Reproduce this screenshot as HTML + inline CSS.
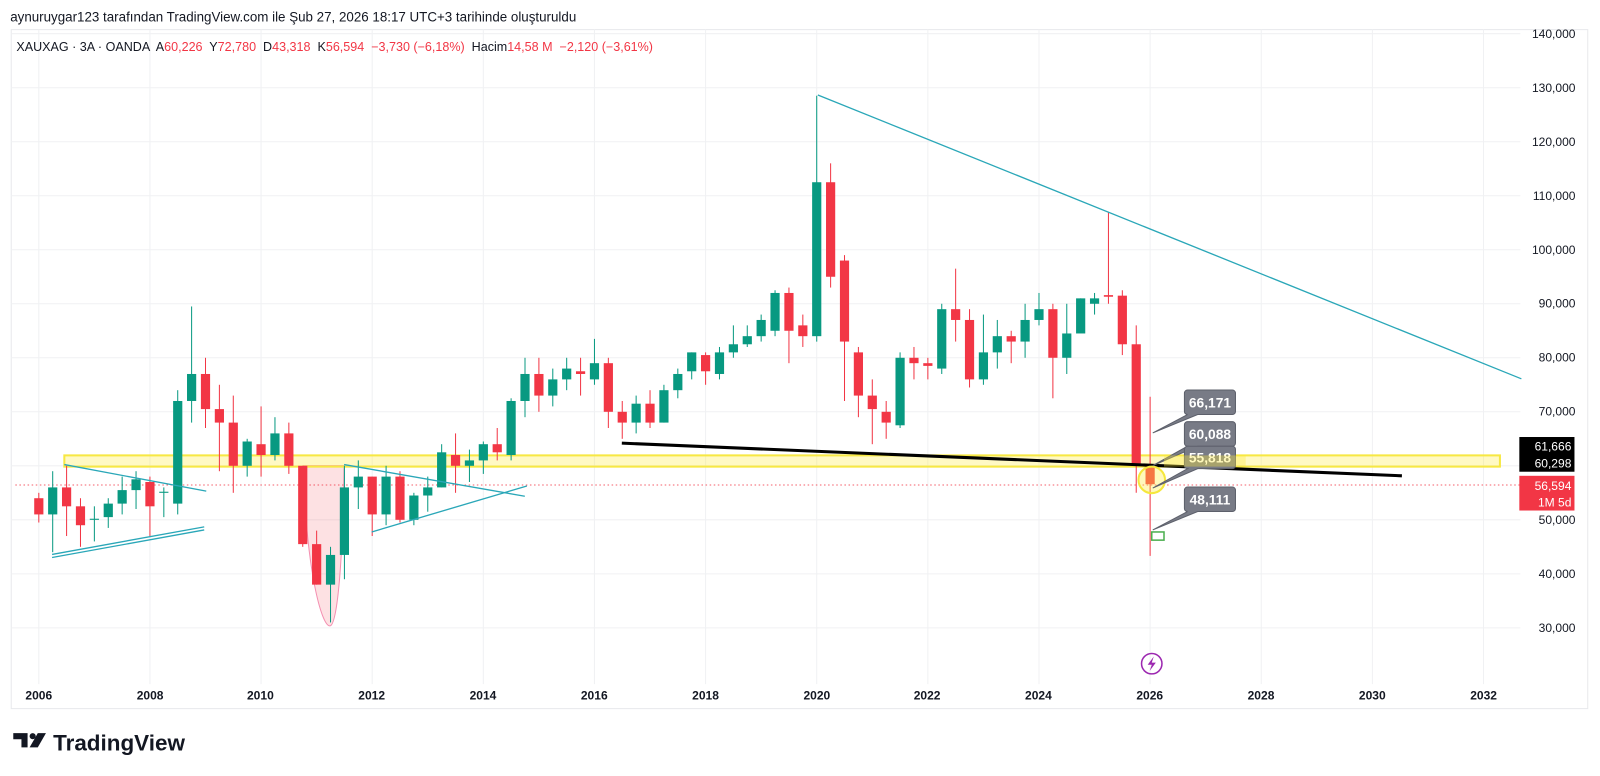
<!DOCTYPE html>
<html><head><meta charset="utf-8"><style>
html,body{margin:0;padding:0;background:#fff;overflow:hidden}
svg{display:block;font-family:"Liberation Sans",sans-serif}
</style></head><body>
<svg id="s" width="1600" height="776" viewBox="0 0 1567 760" xmlns="http://www.w3.org/2000/svg">
<rect x="0" y="0" width="1567" height="760" fill="#fff"/>
<rect x="11" y="29" width="1544" height="665" fill="none" stroke="#e8e9ec" stroke-width="1"/>
<g id="grid" stroke="#f0f1f3" stroke-width="1"></g>
<text x="10" y="21" font-size="13.1" fill="#131722">aynuruygar123 tarafından TradingView.com ile Şub 27, 2026 18:17 UTC+3 tarihinde oluşturuldu</text>
<text x="16" y="50" font-size="12.3" fill="#131722" style="white-space:pre" xml:space="preserve">XAUXAG · 3A · OANDA  A<tspan fill="#f23645">60,226</tspan>  Y<tspan fill="#f23645">72,780</tspan>  D<tspan fill="#f23645">43,318</tspan>  K<tspan fill="#f23645">56,594  −3,730 (−6,18%)</tspan>  Hacim<tspan fill="#f23645">14,58 M  −2,120 (−3,61%)</tspan></text>
<g font-size="11.8" fill="#131722" text-anchor="end">
<text x="1543" y="37">140,000</text><text x="1543" y="90">130,000</text><text x="1543" y="143">120,000</text><text x="1543" y="196">110,000</text><text x="1543" y="249">100,000</text><text x="1543" y="301">90,000</text><text x="1543" y="354">80,000</text><text x="1543" y="407">70,000</text><text x="1543" y="513">50,000</text><text x="1543" y="566">40,000</text><text x="1543" y="619">30,000</text>
</g>
<g font-size="11.8" font-weight="bold" fill="#131722" text-anchor="middle">
<text x="38" y="685">2006</text><text x="147" y="685">2008</text><text x="255" y="685">2010</text><text x="364" y="685">2012</text><text x="473" y="685">2014</text><text x="582" y="685">2016</text><text x="691" y="685">2018</text><text x="800" y="685">2020</text><text x="908" y="685">2022</text><text x="1017" y="685">2024</text><text x="1126" y="685">2026</text><text x="1235" y="685">2028</text><text x="1344" y="685">2030</text><text x="1453" y="685">2032</text>
</g>
<line x1="15" y1="475" x2="1489" y2="475" stroke="#f23645" stroke-width="1" stroke-dasharray="1.5,2.5" opacity="0.8"/>
<path d="M297,456 C300,560 315,613 323,613 C331,613 336,540 337,456 Z" fill="rgba(242,54,69,0.15)" stroke="#f48fb1" stroke-width="1"/>
<rect x="63" y="446" width="1406" height="11" fill="rgba(255,235,59,0.3)" stroke="#f7e843" stroke-width="2"/>
<g id="candles"></g>
<g stroke="#2aa7b8" stroke-width="1.3" fill="none">
<line x1="801" y1="93" x2="1490" y2="371"/>
<line x1="63" y1="455" x2="202" y2="481"/>
<line x1="51" y1="543" x2="200" y2="516"/>
<line x1="51" y1="546" x2="200" y2="519"/>
<line x1="337" y1="455" x2="514" y2="486"/>
<line x1="364" y1="521" x2="516" y2="476"/>
</g>
<line x1="609" y1="434" x2="1373" y2="466" stroke="#000" stroke-width="3"/>
<circle cx="1128" cy="470" r="13" fill="rgba(255,235,59,0.35)" stroke="#f5e73c" stroke-width="2"/>
<rect x="1128" y="521" width="12" height="8" fill="none" stroke="#4caf50" stroke-width="1.5"/>
<g fill="#787b86" stroke="#5d606b" stroke-width="1">
<path d="M1163,382 h44 a3,3 0 0 1 3,3 v18 a3,3 0 0 1 -3,3 h-34 l-44,18 l34,-18 h0 a3,3 0 0 1 -3,-3 v-18 a3,3 0 0 1 3,-3z"/>
<path d="M1163,413 h44 a3,3 0 0 1 3,3 v18 a3,3 0 0 1 -3,3 h-34 l-44,19 l34,-19 a3,3 0 0 1 -3,-3 v-18 a3,3 0 0 1 3,-3z"/>
<path d="M1163,437 h44 a3,3 0 0 1 3,3 v16 a3,3 0 0 1 -3,3 h-34 l-44,19 l34,-19 a3,3 0 0 1 -3,-3 v-16 a3,3 0 0 1 3,-3z"/>
<path d="M1163,477 h44 a3,3 0 0 1 3,3 v18 a3,3 0 0 1 -3,3 h-34 l-44,18 l34,-18 a3,3 0 0 1 -3,-3 v-18 a3,3 0 0 1 3,-3z"/>
</g>
<g font-size="13.5" font-weight="bold" fill="#fff" text-anchor="middle">
<text x="1185" y="399">66,171</text><text x="1185" y="430">60,088</text><text x="1185" y="453">55,818</text><text x="1185" y="494">48,111</text>
</g>
<rect x="1140" y="446" width="80" height="11" fill="rgba(255,235,59,0.35)"/>
<rect x="1488" y="428" width="54" height="34" fill="#000"/>
<text x="1539" y="441" font-size="11.8" fill="#fff" text-anchor="end">61,666</text>
<text x="1539" y="458" font-size="11.8" fill="#fff" text-anchor="end">60,298</text>
<rect x="1488" y="466" width="54" height="34" fill="#f23645"/>
<text x="1539" y="480" font-size="11.8" fill="#fff" text-anchor="end">56,594</text>
<text x="1539" y="496" font-size="11.8" fill="#fff" text-anchor="end">1M 5d</text>
<circle cx="1128" cy="650" r="10" fill="none" stroke="#9c27b0" stroke-width="1.5"/>
<path d="M1130,643 l-6,8 h4 l-2,6 l6,-8 h-4z" fill="#9c27b0"/>
<g transform="translate(13,716)">
<path d="M0,2 h14 v14 h-6 v-8 h-8z" fill="#131722"/>
<circle cx="19" cy="5" r="3" fill="#131722"/>
<path d="M24,2 h8 l-8,14 h-8z" fill="#131722"/>
</g>
<text x="52" y="735" font-size="22" font-weight="bold" fill="#131722">TradingView</text>
</svg>
<script>
var NS="http://www.w3.org/2000/svg";
function Y(v){return 33+(140-v)*5.29;}
var g=document.getElementById('grid');
for(var v=30;v<=140;v+=10){var l=document.createElementNS(NS,'line');l.setAttribute('x1',11);l.setAttribute('x2',1489);l.setAttribute('y1',Y(v));l.setAttribute('y2',Y(v));g.appendChild(l);}
for(var i=0;i<=13;i++){var x=38+i*108.84;var l=document.createElementNS(NS,'line');l.setAttribute('x1',x);l.setAttribute('x2',x);l.setAttribute('y1',29);l.setAttribute('y2',670);g.appendChild(l);}
var C=[[54,51,55,49.5],[51,56,59,44],[56,52.5,60,47],[52.5,49,54,45],[50,50.2,52.5,46],[50.5,53,54,48.5],[53,55.5,58,51],[55.5,57.5,59,52],[57,52.5,58,47],[55,55.2,56,50.5],[53,72,74,51],[72,77,89.5,68],[77,70.5,80,67],[70.5,68,75,59],[68,60,73,55],[60,64.5,65,58],[64,62,71,58],[62,66,69,61],[66,60,68,58.5],[60,45.5,60,45],[45.5,38,48,38],[38,43.5,45,31],[43.5,56,60,39],[56,58,61,52],[58,51,58,47],[51,58,60,49],[58,50,59,49.5],[50,54.5,55,49],[54.5,56,58,51.5],[56,62.5,64,56],[62,60,66,55],[60,61,63,57],[61,64,64.5,58.5],[64,62.5,67,61],[62,72,72.5,61],[72,77,80,69],[77,73,80,70],[73,76,78,71],[76,78,80,74],[77.5,77,80,73],[76,79,83.5,75],[79,70,80,67],[70,68,72,65],[68,71.5,73,66],[71.5,68,74,67],[68,74,75,68],[74,77,78,72.5],[77.5,81,81,76],[80.5,77.5,81,75],[77,81,82,76],[81,82.5,86,80],[82.5,84,86,82],[84,87,88,83],[85,92,92.5,84],[92,85,93,79],[86,84,88,82],[84,112.5,128.5,83],[112.5,95,116,93],[98,83,99,72],[81,73,82,69],[73,70.5,76,64],[70,68,72,65],[67.5,80,81,67],[80,79,82,76],[79,78.5,80,76],[78,89,90,77],[89,87,96.5,83],[87,76,89,74.5],[76,81,88,75],[81,84,87,78],[84,83,85,79],[83,87,90,80],[87,89,92,86],[89,80,90,72.5],[80,84.5,90,77],[84.5,91,91,85],[90,91,92,88],[91.6,91.3,107,90],[91.5,82.5,92.5,80.5],[82.5,60,86,55],[60.226,56.594,72.78,43.318]];
var cg=document.getElementById('candles');
C.forEach(function(c,i){var x=38+i*13.605;var up=c[1]>=c[0];var col=up?'#089981':'#f23645';
var w=document.createElementNS(NS,'line');w.setAttribute('x1',x);w.setAttribute('x2',x);w.setAttribute('y1',Y(c[2]));w.setAttribute('y2',Y(c[3]));w.setAttribute('stroke',col);w.setAttribute('stroke-width',1);cg.appendChild(w);
var t=Y(Math.max(c[0],c[1])),b=Y(Math.min(c[0],c[1]));var r=document.createElementNS(NS,'rect');r.setAttribute('x',x-4.5);r.setAttribute('width',9);r.setAttribute('y',t);r.setAttribute('height',Math.max(1,b-t));r.setAttribute('fill',col);cg.appendChild(r);});
</script>
</body></html>
